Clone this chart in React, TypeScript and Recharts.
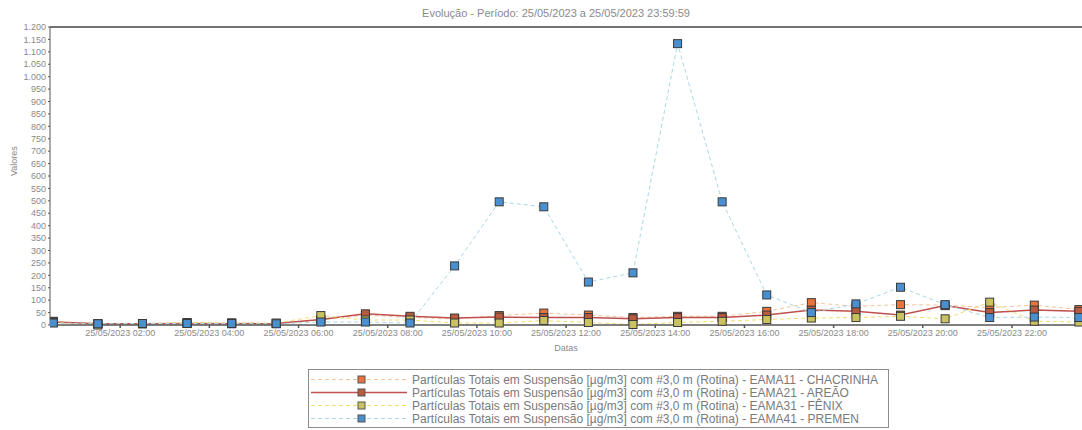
import React from "react";
import { LineChart, Line, XAxis, YAxis, Legend, ReferenceLine } from "recharts";

// horas (meio da hora) de 25/05/2023
const horas = [0.5, 1.5, 2.5, 3.5, 4.5, 5.5, 6.5, 7.5, 8.5, 9.5, 10.5, 11.5, 12.5, 13.5, 14.5, 15.5, 16.5, 17.5, 18.5, 19.5, 20.5, 21.5, 22.5, 23.5];

// valores [ug/m3]
const chacrinha = [15, 6, 6, 8, 8, 6, 20, 40, 30, 25, 38, 48, 40, 30, 35, 35, 55, 90, 75, 82, 80, 70, 80, 62];
const areao = [12, 5, 5, 6, 5, 6, 22, 45, 35, 28, 32, 30, 30, 25, 30, 30, 40, 60, 55, 40, 78, 50, 60, 55];
const fenix = [10, 0, 5, 10, 8, 8, 38, 20, 20, 8, 8, 18, 10, 2, 10, 15, 22, 28, 30, 35, 25, 92, 15, 12];
const premen = [8, 5, 6, 6, 6, 5, 12, 12, 8, 238, 496, 476, 173, 210, 1133, 496, 121, 50, 85, 152, 82, 30, 32, 30];

const xTicks = [2, 4, 6, 8, 10, 12, 14, 16, 18, 20, 22];
const yTicks = [0, 50, 100, 150, 200, 250, 300, 350, 400, 450, 500, 550, 600, 650, 700, 750, 800, 850, 900, 950, 1000, 1050, 1100, 1150, 1200];

const titulo = "Evolução - Período: 25/05/2023 a 25/05/2023 23:59:59";
const prefixo = "Partículas Totais em Suspensão [µg/m3] com #3,0 m (Rotina) - ";

const series = [
  { key: "chacrinha", nome: "EAMA11 - CHACRINHA", stroke: "#f6c39a", dash: "4 3", width: 1, fill: "#e8743b" },
  { key: "areao", nome: "EAMA21 - AREÃO", stroke: "#c0504d", dash: undefined, width: 1.5, fill: "#b95a3f" },
  { key: "fenix", nome: "EAMA31 - FÊNIX", stroke: "#f3dc6e", dash: "4 3", width: 1, fill: "#c9c25e" },
  { key: "premen", nome: "EAMA41 - PREMEN", stroke: "#a9d8e6", dash: "4 3", width: 1, fill: "#4a90d0" },
];

const data = horas.map((h, i) => ({
  hora: h,
  chacrinha: chacrinha[i],
  areao: areao[i],
  fenix: fenix[i],
  premen: premen[i],
}));

const FONT = '"Liberation Sans", Arial, sans-serif';

const fmtHora = (h: number) => `25/05/2023 ${String(h).padStart(2, "0")}:00`;
const fmtValor = (v: number) => (v >= 1000 ? `${Math.floor(v / 1000)}.${String(v % 1000).padStart(3, "0")}` : String(v));

const squareDot = (fill: string) => (props: any) => {
  const { cx, cy, index } = props;
  if (cx == null || cy == null) return <g key={index} />;
  return <rect key={index} x={cx - 4} y={cy - 4} width={8} height={8} fill={fill} stroke="#3a3a3a" strokeWidth={1} />;
};

const LegendBox = () => (
  <div style={{ border: "1px solid #8c8c8c", background: "#fff", padding: "3px 0 2px", fontFamily: FONT, fontSize: 12, color: "#7a7a7a" }}>
    {series.map((s) => (
      <div key={s.key} style={{ display: "flex", alignItems: "center", height: 13, whiteSpace: "nowrap" }}>
        <svg width={103} height={13} style={{ flex: "none" }}>
          <line x1={2} x2={98} y1={6.5} y2={6.5} stroke={s.stroke} strokeDasharray={s.dash} strokeWidth={s.width} />
          <rect x={49} y={3} width={7} height={7} fill={s.fill} stroke="#555" />
        </svg>
        <span>{prefixo + s.nome}</span>
      </div>
    ))}
  </div>
);

export default function App() {
  return (
    <div style={{ position: "absolute", left: 0, top: 0, width: 1082, height: 430, background: "#fff" }}>
      <LineChart width={1082} height={430} data={data} margin={{ top: 27, right: 0, bottom: 75, left: 0 }} style={{ fontFamily: FONT }}>
        <XAxis
          dataKey="hora"
          type="number"
          domain={[0.426, 23.57]}
          ticks={xTicks}
          tickFormatter={fmtHora}
          allowDataOverflow
          height={30}
          stroke="#555"
          strokeWidth={1.5}
          tickSize={3}
          tick={{ fontSize: 9, fill: "#8a8a8a" }}
          label={{ value: "Datas", position: "insideBottom", offset: 4, fontSize: 9, fill: "#8a8a8a" }}
        />
        <YAxis
          type="number"
          domain={[0, 1200]}
          ticks={yTicks}
          interval={0}
          tickFormatter={fmtValor}
          width={50}
          stroke="#555"
          tickSize={2}
          tickMargin={2}
          tick={{ fontSize: 9, fill: "#8a8a8a" }}
          label={{ value: "Valores", angle: -90, position: "insideLeft", offset: 14, fontSize: 9, fill: "#8a8a8a" }}
        />
        <ReferenceLine
          y={1200}
          stroke="#444"
          strokeWidth={1.5}
          label={{ value: titulo, position: "top", offset: 10, fontSize: 11, fill: "#8a8a8a", dx: -10 }}
        />
        {series.map((s) => (
          <Line
            key={s.key}
            dataKey={s.key}
            name={s.nome}
            type="linear"
            stroke={s.stroke}
            strokeWidth={s.width}
            strokeDasharray={s.dash}
            dot={squareDot(s.fill)}
            activeDot={false}
            isAnimationActive={false}
          />
        ))}
        <Legend
          layout="vertical"
          verticalAlign="middle"
          align="center"
          content={<LegendBox />}
          wrapperStyle={{ left: 308, top: 369, width: 581 }}
        />
      </LineChart>
    </div>
  );
}
